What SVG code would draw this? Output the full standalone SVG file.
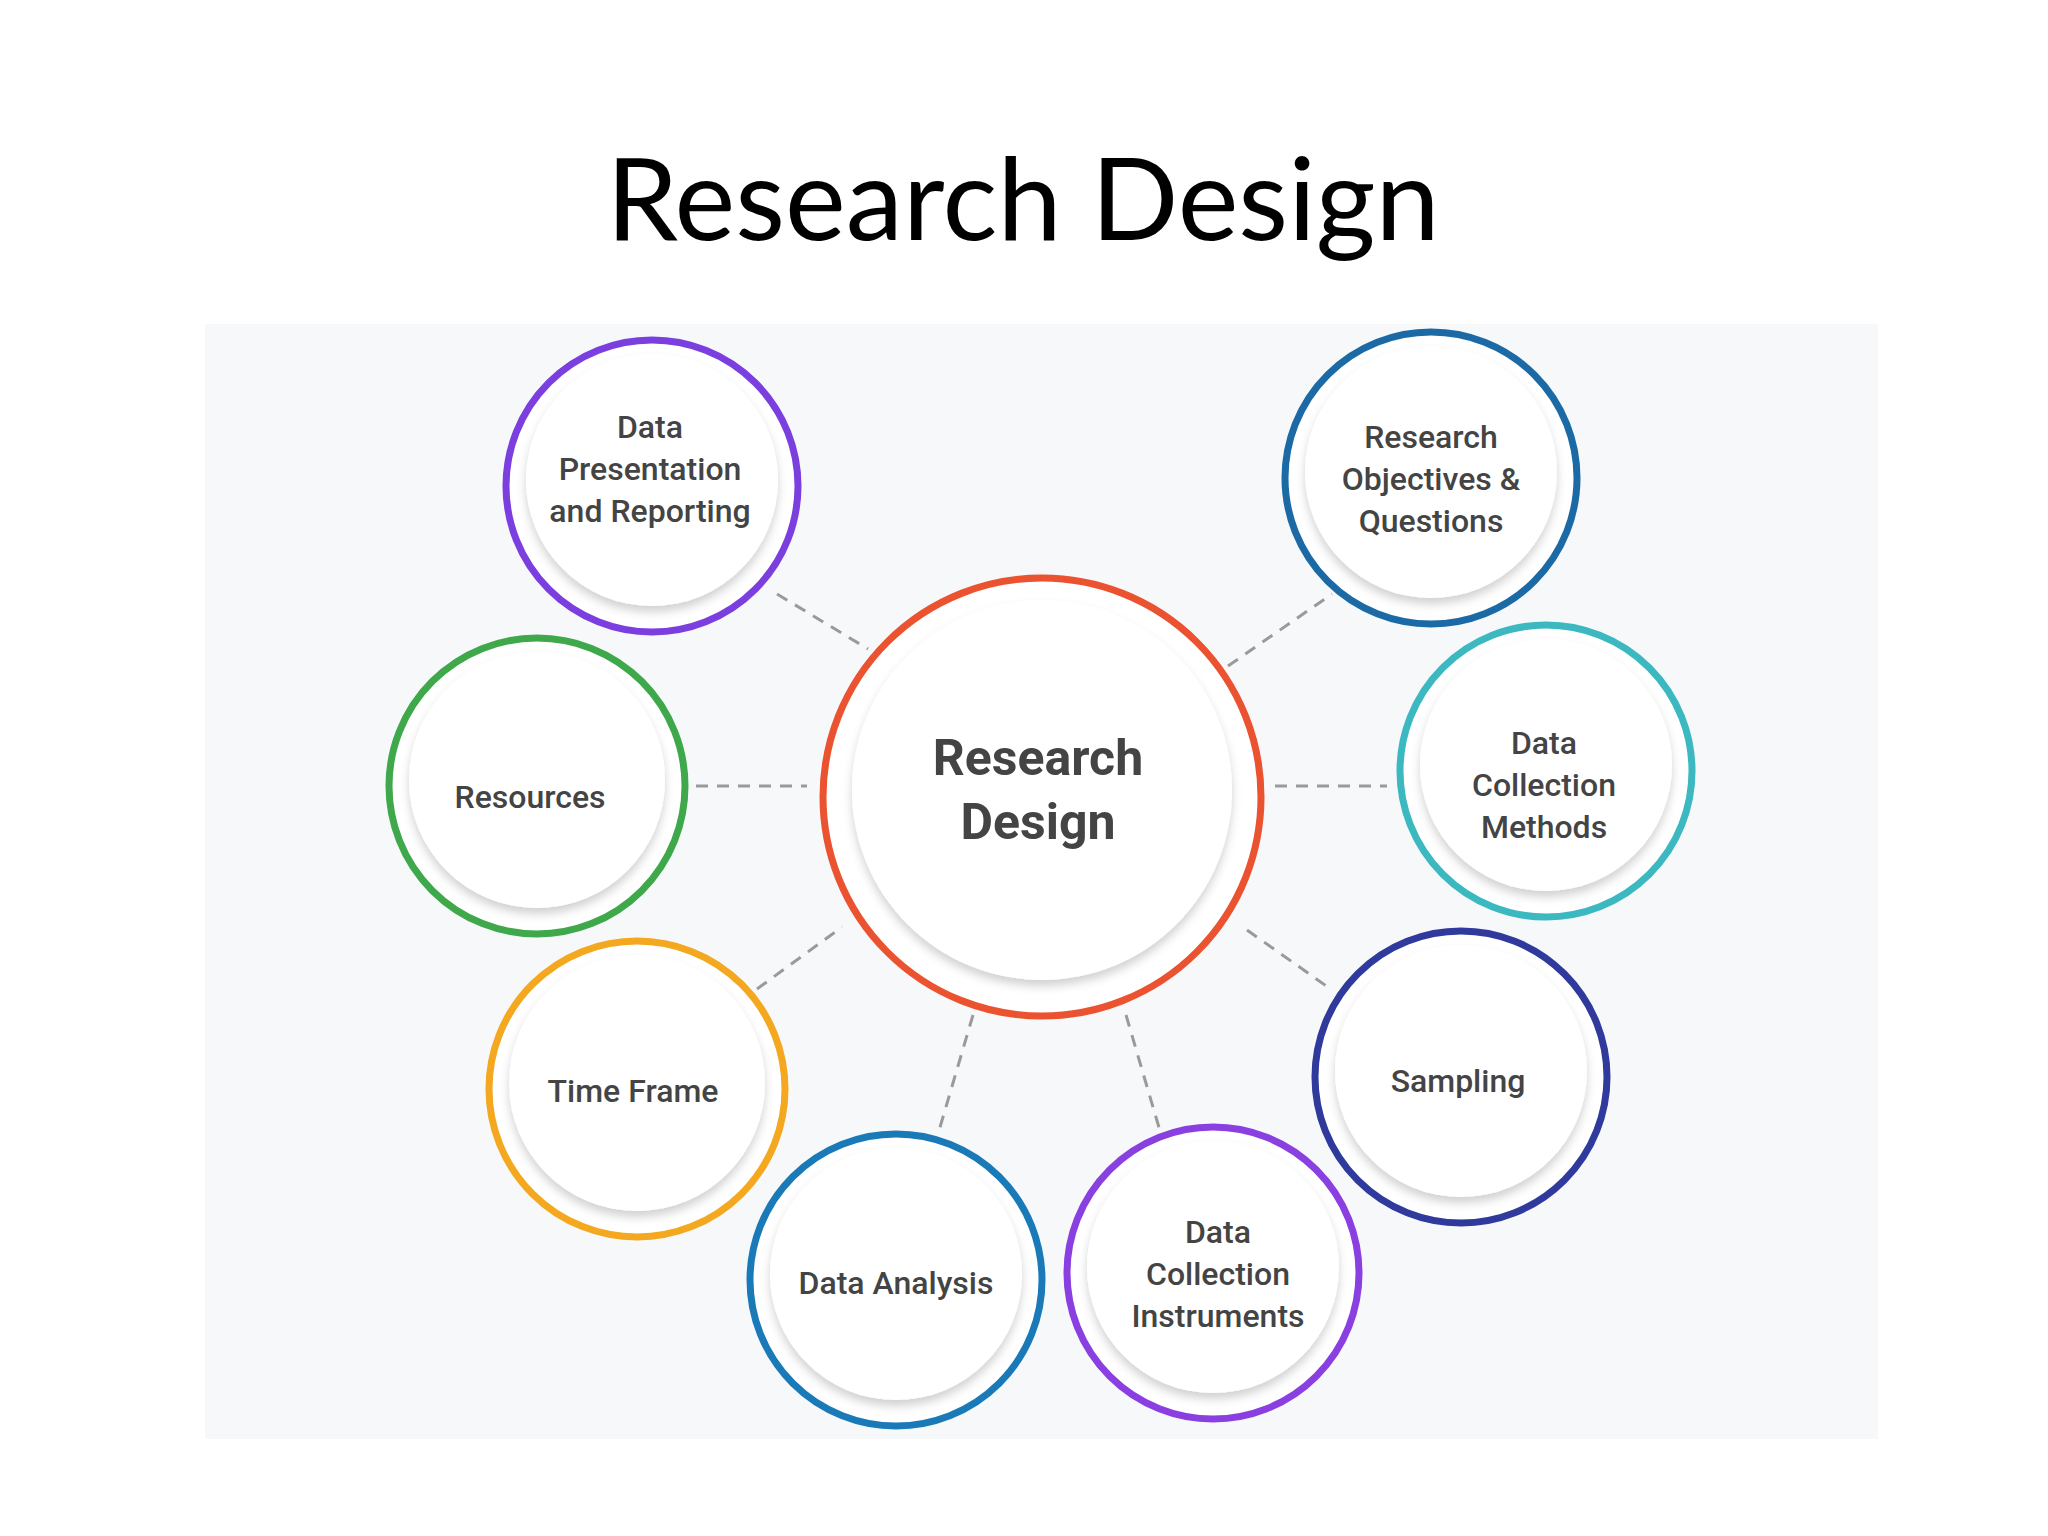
<svg xmlns="http://www.w3.org/2000/svg" width="2048" height="1536" viewBox="0 0 2048 1536">
<defs>
<filter id="sh" x="-20%" y="-20%" width="140%" height="150%"><feDropShadow dx="0" dy="6" stdDeviation="5" flood-color="#000" flood-opacity="0.18"/></filter>
</defs>
<style>
.ring{fill:#fff;stroke-width:7}
.in{fill:#fff;filter:url(#sh)}
.t{font-family:Roboto,"Liberation Sans",sans-serif;font-size:32px;font-weight:500;fill:#444;text-anchor:middle;dominant-baseline:central}
.big{font-size:50px;font-weight:bold}
.c{stroke:#9a9a9a;stroke-width:3;stroke-dasharray:12 9;fill:none}
</style>
<rect width="2048" height="1536" fill="#fff"/>
<text x="1023" y="240" font-family="Lato,'Liberation Sans',sans-serif" font-size="115" fill="#000" text-anchor="middle">Research Design</text>
<rect x="205" y="324" width="1673" height="1115" fill="#f7f8fa"/>
<g id="connectors">
<line class="c" x1="777" y1="594" x2="868" y2="649"/>
<line class="c" x1="1228" y1="666" x2="1332" y2="594"/>
<line class="c" x1="696" y1="786" x2="807" y2="786"/>
<line class="c" x1="1275" y1="786" x2="1387" y2="786"/>
<line class="c" x1="757" y1="989" x2="842" y2="927"/>
<line class="c" x1="1247" y1="930" x2="1332" y2="990"/>
<line class="c" x1="973" y1="1015" x2="938" y2="1134"/>
<line class="c" x1="1126" y1="1015" x2="1160" y2="1131"/>
</g>
<g id="center"><circle class="ring" cx="1042" cy="797" r="219" stroke="#ea5230" stroke-width="12"/><circle class="in" cx="1042" cy="790" r="190"/>
<text class="t big" x="1038" y="758">Research</text><text class="t big" x="1038" y="822">Design</text></g>
<g id="n1"><circle class="ring" cx="652" cy="486" r="146" stroke="#7b3fe0"/><circle class="in" cx="652" cy="480" r="126"/>
<text class="t" x="650" y="427">Data</text><text class="t" x="650" y="469">Presentation</text><text class="t" x="650" y="511">and Reporting</text></g>
<g id="n2"><circle class="ring" cx="1431" cy="478" r="146" stroke="#1b6aa5"/><circle class="in" cx="1431" cy="472" r="126"/>
<text class="t" x="1431" y="437">Research</text><text class="t" x="1431" y="479">Objectives &amp;</text><text class="t" x="1431" y="521">Questions</text></g>
<g id="n3"><circle class="ring" cx="537" cy="786" r="148" stroke="#3ea84a"/><circle class="in" cx="537" cy="780" r="128"/>
<text class="t" x="530" y="797">Resources</text></g>
<g id="n4"><circle class="ring" cx="1546" cy="771" r="146" stroke="#3bb8c0"/><circle class="in" cx="1546" cy="765" r="126"/>
<text class="t" x="1544" y="743">Data</text><text class="t" x="1544" y="785">Collection</text><text class="t" x="1544" y="827">Methods</text></g>
<g id="n5"><circle class="ring" cx="637" cy="1089" r="148" stroke="#f3a81f"/><circle class="in" cx="637" cy="1083" r="128"/>
<text class="t" x="633" y="1091">Time Frame</text></g>
<g id="n6"><circle class="ring" cx="1461" cy="1077" r="146" stroke="#2f3a9c"/><circle class="in" cx="1461" cy="1071" r="126"/>
<text class="t" x="1458" y="1081">Sampling</text></g>
<g id="n7"><circle class="ring" cx="896" cy="1280" r="146" stroke="#1a7ab8"/><circle class="in" cx="896" cy="1274" r="126"/>
<text class="t" x="896" y="1283">Data Analysis</text></g>
<g id="n8"><circle class="ring" cx="1213" cy="1273" r="146" stroke="#8a3fe0"/><circle class="in" cx="1213" cy="1267" r="126"/>
<text class="t" x="1218" y="1232">Data</text><text class="t" x="1218" y="1274">Collection</text><text class="t" x="1218" y="1316">Instruments</text></g>
</svg>
